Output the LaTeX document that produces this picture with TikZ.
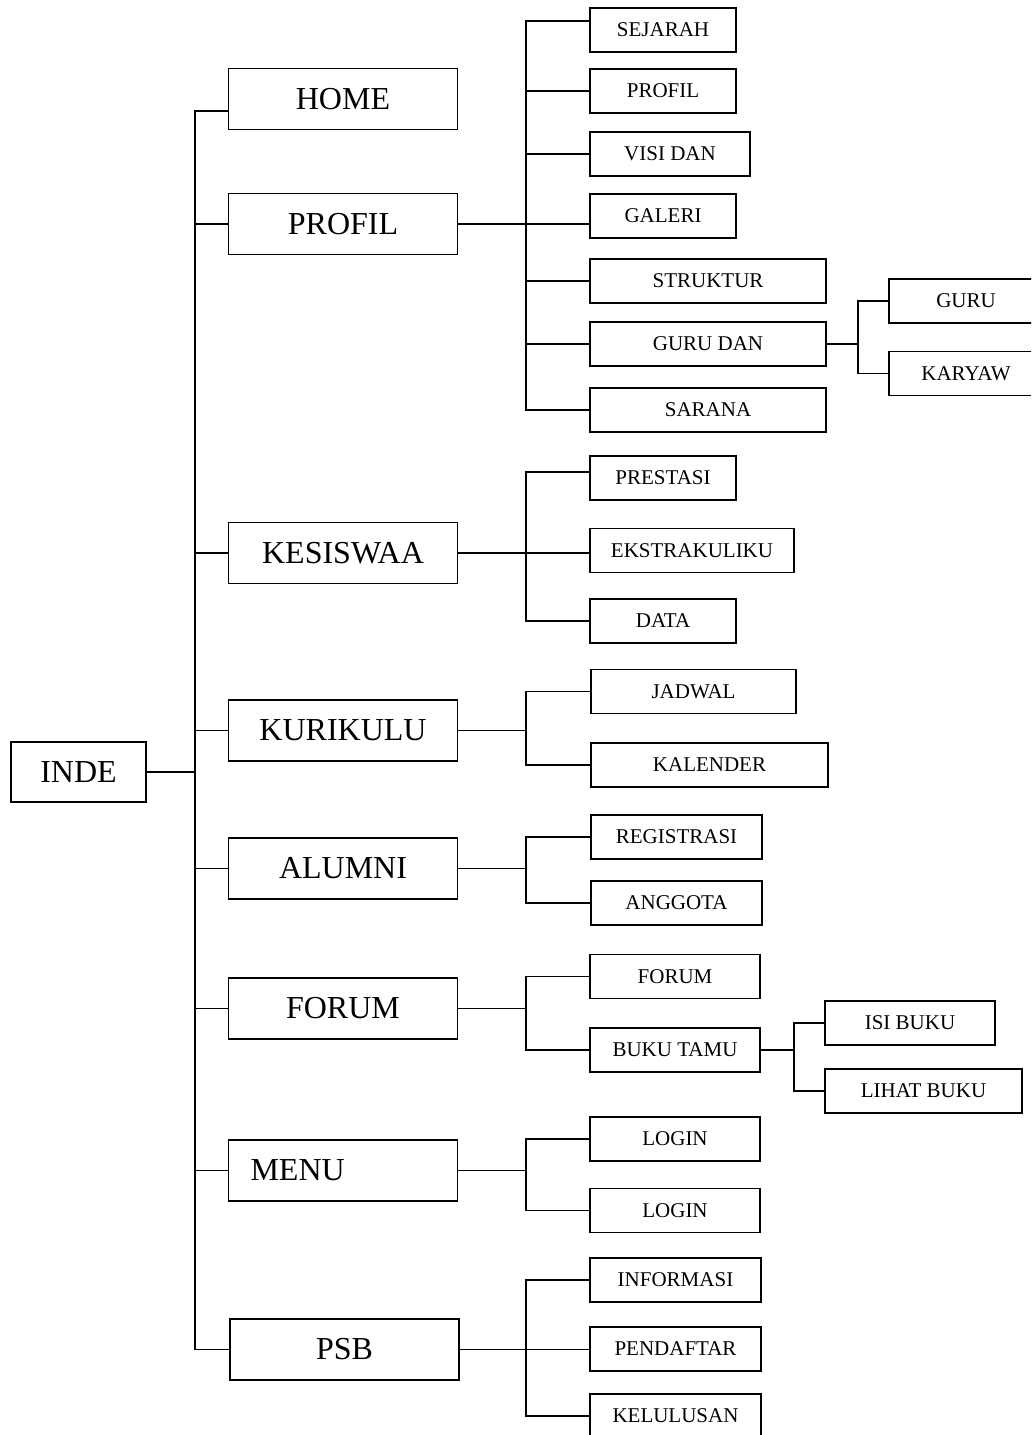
\documentclass[tikz,border=0pt]{standalone}
\usepackage{fontspec}
\setmainfont{Liberation Serif}
\usetikzlibrary{positioning}

\tikzset{
  mainbox/.style = {draw, line width=1.6pt, minimum width=229pt, minimum height=61pt,
                    inner sep=0pt, font=\fontsize{32}{36}\selectfont},
  subbox/.style  = {draw, line width=1.6pt, minimum height=44pt,
                    inner sep=0pt, font=\fontsize{21}{24}\selectfont},
  link/.style    = {line width=1.6pt}
}

\begin{document}
\begin{tikzpicture}[x=1pt, y=-1pt]
\path[use as bounding box] (0,0) rectangle (1031,1435);
\clip (0,0) rectangle (1031,1435);

% root and first level
\node[mainbox, minimum width=135pt, minimum height=60pt]	(inde)		at (78.5,772)		{INDE};
\node[mainbox]									(home)		at (343,99)		{HOME};
\node[mainbox]									(profil)		at (343,224)		{PROFIL};
\node[mainbox]									(kesiswaa)	at (343,553)		{KESISWAA};
\node[mainbox]									(kurikulu)	at (343,730.5)	{KURIKULU};
\node[mainbox]									(alumni)		at (343,868.5)	{ALUMNI};
\node[mainbox]									(forum)		at (343,1008.5)	{FORUM};
\node[mainbox, text width=185pt, align=left]			(menu)		at (343,1170.5)	{MENU};
\node[mainbox]									(psb)		at (344.5,1349.5)	{PSB};

% second level
\node[subbox, minimum width=146pt]	(sejarah)	at (663,30)		{SEJARAH};
\node[subbox, minimum width=146pt]	(profilb)		at (663,91)		{PROFIL};
\node[subbox, minimum width=160pt]	(visi)		at (670,154)		{VISI DAN};
\node[subbox, minimum width=146pt]	(galeri)		at (663,216)		{GALERI};
\node[subbox, minimum width=236pt]	(struktur)	at (708,281)		{STRUKTUR};
\node[subbox, minimum width=236pt]	(gurudan)	at (708,344)		{GURU DAN};
\node[subbox, minimum width=236pt]	(sarana)		at (708,410)		{SARANA};

\node[subbox, minimum width=146pt]	(prestasi)	at (663,478)		{PRESTASI};
\node[subbox, minimum width=204pt]	(ekstra)		at (692,550.5)	{EKSTRAKULIKU};
\node[subbox, minimum width=146pt]	(data)		at (663,621)		{DATA};

\node[subbox, minimum width=205pt]	(jadwal)		at (693.5,691.5)	{JADWAL};
\node[subbox, minimum width=237pt]	(kalender)	at (709.5,765)	{KALENDER};

\node[subbox, minimum width=171pt]	(registrasi)	at (676.5,837)	{REGISTRASI};
\node[subbox, minimum width=171pt]	(anggota)	at (676.5,903)	{ANGGOTA};

\node[subbox, minimum width=170pt]	(forumb)		at (675,976.5)	{FORUM};
\node[subbox, minimum width=170pt]	(bukutamu)	at (675,1050)		{BUKU TAMU};

\node[subbox, minimum width=170pt]	(logina)		at (675,1139)		{LOGIN};
\node[subbox, minimum width=170pt]	(loginb)		at (675,1210.5)	{LOGIN};

\node[subbox, minimum width=171pt]	(informasi)	at (675.5,1280)	{INFORMASI};
\node[subbox, minimum width=171pt]	(pendaftar)	at (675.5,1349)	{PENDAFTAR};
\node[subbox, minimum width=171pt]	(kelulusan)	at (675.5,1416)	{KELULUSAN};

% third level
\node[subbox, minimum width=154pt]	(guru)		at (966,301)		{GURU};
\node[subbox, minimum width=154pt]	(karyaw)		at (966,373.5)	{KARYAW};
\node[subbox, minimum width=170pt]	(isibuku)		at (910,1023)		{ISI BUKU};
\node[subbox, minimum width=197pt]	(lihatbuku)	at (923.5,1091)	{LIHAT BUKU};

% spines
\coordinate (spine) at (195,0);
\coordinate (sub) at (526,0);
\coordinate (gsub) at (858,0);
\coordinate (bsub) at (794,0);

% main tree
\draw[link] (inde.east) -- (inde.east -| spine);
\draw[link] ([yshift=-12pt]home.west) -| (spine |- psb.west) -- (psb.west);
\foreach \n in {profil,kesiswaa,kurikulu,alumni,forum,menu}
	\draw[link] (spine |- \n.west) -- (\n.west);

% profil
\draw[link] (profil.east) -- (profil.east -| sub);
\draw[link] ([yshift=9pt]sejarah.west) -| (sub |- sarana.west) -- (sarana.west);
\foreach \n in {profilb,visi,struktur,gurudan}
	\draw[link] (sub |- \n.west) -- (\n.west);
\draw[link] (profil.east -| sub) -- (profil.east -| galeri.west);
\draw[link] (gurudan.east) -- (gurudan.east -| gsub);
\draw[link] (guru.west) -| (gsub |- karyaw.west) -- (karyaw.west);

% kesiswaan
\draw[link] (kesiswaa.east) -- (kesiswaa.east -| ekstra.west);
\draw[link] ([yshift=6pt]prestasi.west) -| (sub |- data.west) -- (data.west);

% kurikulum
\draw[link] (kurikulu.east) -- (kurikulu.east -| sub);
\draw[link] (jadwal.west) -| (sub |- kalender.west) -- (kalender.west);

% alumni
\draw[link] (alumni.east) -- (alumni.east -| sub);
\draw[link] (registrasi.west) -| (sub |- anggota.west) -- (anggota.west);

% forum
\draw[link] (forum.east) -- (forum.east -| sub);
\draw[link] (forumb.west) -| (sub |- bukutamu.west) -- (bukutamu.west);
\draw[link] (bukutamu.east) -- (bukutamu.east -| bsub);
\draw[link] (isibuku.west) -| (bsub |- lihatbuku.west) -- (lihatbuku.west);

% menu
\draw[link] (menu.east) -- (menu.east -| sub);
\draw[link] (logina.west) -| (sub |- loginb.west) -- (loginb.west);

% psb
\draw[link] (psb.east) -- (psb.east -| pendaftar.west);
\draw[link] (informasi.west) -| (sub |- kelulusan.west) -- (kelulusan.west);
\end{tikzpicture}
\end{document}
